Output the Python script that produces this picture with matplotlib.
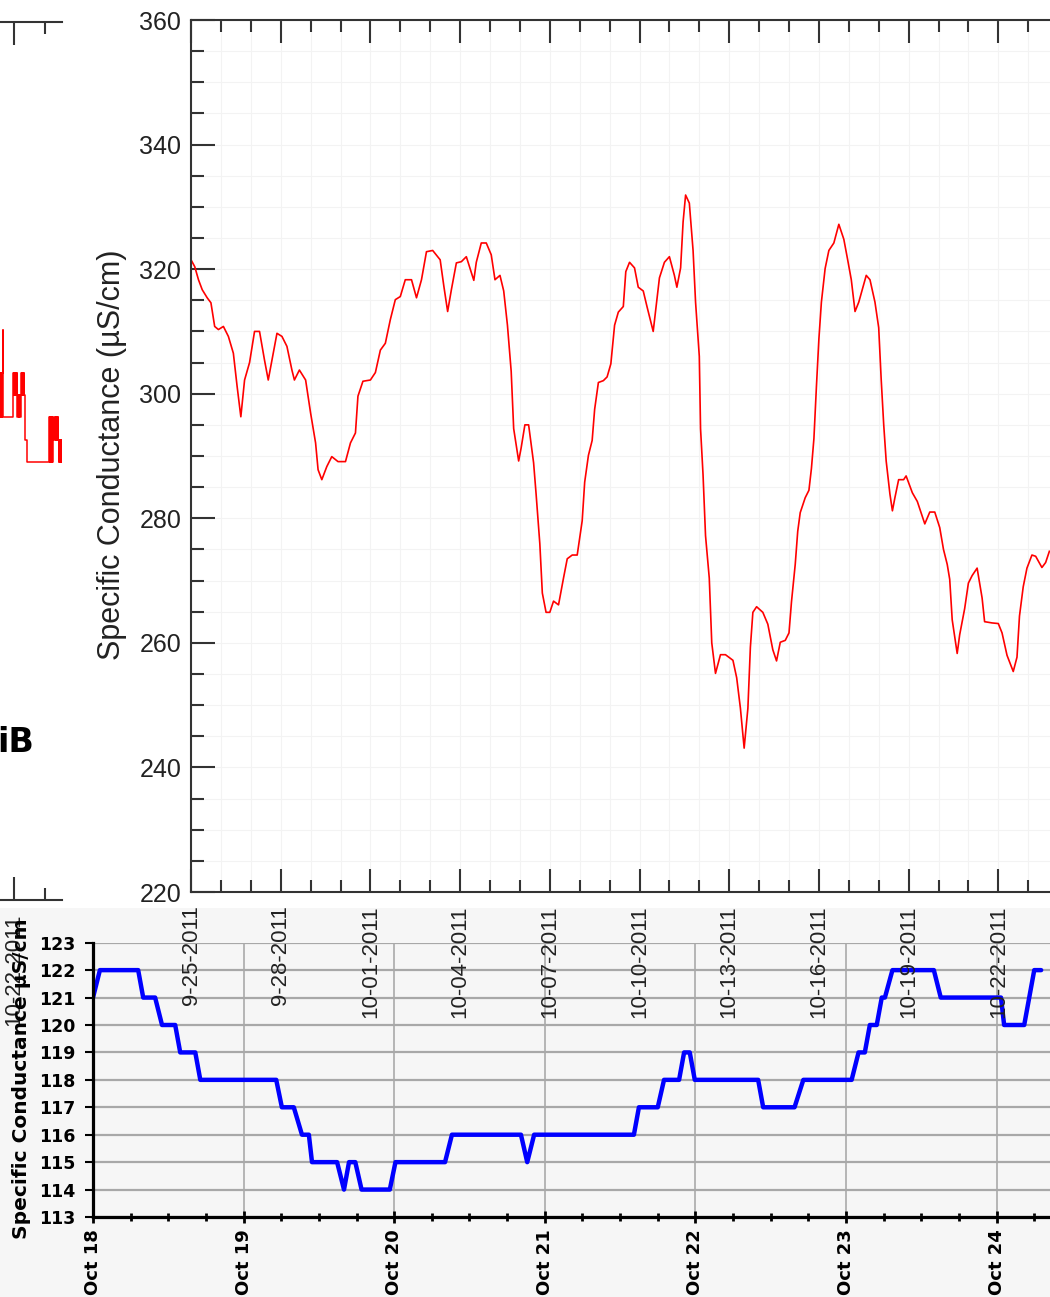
import matplotlib
matplotlib.use("Agg")
import matplotlib.pyplot as plt
import matplotlib.dates as mdates
from matplotlib.ticker import MultipleLocator, FuncFormatter, NullLocator
from matplotlib.patches import Rectangle
import pandas as pd

W, H = 1050, 1297

# Specific conductance (uS/cm), hours after 2011-09-25 00:00
red_hours = [
    0, 3, 6, 9, 13, 16, 19, 22, 26, 30,
    34, 37, 40, 43, 47, 51, 55, 59, 62, 65,
    69, 73, 77, 81, 83, 87, 92, 96, 100, 102,
    105, 109, 113, 118, 124, 128, 132, 134, 138, 144,
    148, 152, 156, 160, 164, 168, 172, 177, 181, 185,
    189, 194, 200, 203, 206, 209, 213, 217, 221, 227,
    229, 233, 237, 241, 244, 248, 251, 254, 257, 259,
    263, 265, 268, 271, 275, 277, 280, 282, 285, 288,
    291, 295, 299, 302, 306, 310, 314, 316, 319, 322,
    324, 327, 331, 334, 337, 340, 343, 347, 349, 352,
    356, 359, 363, 366, 371, 373, 376, 380, 384, 388,
    390, 393, 395, 397, 400, 403, 405, 408, 409, 411,
    413, 416, 418, 421, 425, 429, 435, 438, 441, 444,
    447, 449, 451, 454, 459, 463, 467, 470, 473, 477,
    480, 482, 485, 487, 489, 493, 496, 498, 500, 502,
    504, 506, 509, 512, 516, 520, 524, 527, 530, 533,
    536, 542, 545, 549, 552, 554, 556, 558, 561, 563,
    565, 568, 572, 574, 579, 583, 587, 589, 593, 597,
    601, 604, 607, 609, 611, 615, 617, 621, 624, 627,
    631, 635, 637, 643, 648, 651, 655, 660, 663, 665,
    668, 671, 675, 678, 683, 686, 689,
]
red_values = [
    321.5, 320.4, 318.3, 316.7, 315.4, 314.6, 310.8, 310.3, 310.8, 309.2,
    306.5, 301.2, 296.3, 302.2, 305.0, 310.0, 310.0, 305.4, 302.2, 305.4,
    309.7, 309.2, 307.6, 303.8, 302.2, 303.8, 302.2, 296.9, 292.1, 287.8,
    286.2, 288.3, 289.9, 289.1, 289.1, 292.1, 293.7, 299.6, 302.0, 302.2,
    303.4, 307.0, 308.1, 311.9, 315.1, 315.6, 318.3, 318.3, 315.4, 318.3,
    322.8, 323.0, 321.5, 317.2, 313.2, 316.7, 321.0, 321.2, 322.0, 318.2,
    321.1, 324.2, 324.2, 322.3, 318.3, 319.0, 316.5, 311.0, 303.6, 294.4,
    289.2, 291.3, 295.0, 295.0, 288.9, 283.9, 275.9, 268.0, 264.9, 264.9,
    266.7, 266.1, 270.4, 273.5, 274.1, 274.1, 279.6, 285.8, 290.1, 292.5,
    297.5, 301.8, 302.1, 302.7, 304.8, 311.0, 313.1, 314.0, 319.6, 321.1,
    320.2, 317.1, 316.5, 314.0, 310.0, 313.4, 318.6, 321.1, 322.0, 319.0,
    317.1, 320.2, 327.6, 331.9, 330.6, 323.0, 314.7, 306.0, 294.4, 287.0,
    277.2, 270.4, 260.0, 255.1, 258.1, 258.1, 257.2, 254.4, 249.5, 243.1,
    249.5, 259.3, 264.9, 265.8, 264.9, 263.0, 258.9, 257.1, 260.1, 260.4,
    261.6, 266.6, 272.6, 277.9, 280.9, 283.3, 284.5, 288.0, 292.8, 301.1,
    308.8, 314.7, 320.1, 323.0, 324.2, 327.2, 324.8, 321.6, 318.3, 313.2,
    314.7, 319.0, 318.3, 314.7, 310.6, 302.3, 295.1, 289.2, 283.9, 281.2,
    283.3, 286.2, 286.2, 286.8, 284.1, 282.7, 280.3, 279.1, 281.0, 281.0,
    278.5, 275.0, 272.6, 270.2, 263.7, 258.3, 261.3, 265.5, 269.6, 270.8,
    272.0, 267.2, 263.4, 263.2, 263.1, 261.6, 258.0, 255.4, 257.7, 264.3,
    269.0, 272.0, 274.1, 273.9, 272.1, 272.9, 274.7,
]

# Specific conductance (uS/cm), hours after 2011-10-18 00:00
blue_hours = [
    0, 1.1, 7.2, 8.0, 9.9, 11.0, 13.1, 13.9, 16.3, 17.1,
    29.2, 30.1, 32.0, 33.3, 34.4, 34.9, 38.9, 40.0, 40.8, 41.8,
    42.8, 47.3, 48.2, 56.1, 57.2, 68.2, 69.2, 70.3, 86.2, 87.0,
    90.0, 91.0, 93.4, 94.2, 95.1, 95.9, 106.0, 106.8, 111.8, 113.2,
    120.9, 122.0, 123.0, 123.8, 124.9, 125.7, 126.2, 127.4, 134.0, 135.1,
    144.7, 145.2, 148.4, 149.2, 150.0, 151.1,
]
blue_values = [
    121, 122, 122, 121, 121, 120, 120, 119, 119, 118,
    118, 117, 117, 116, 116, 115, 115, 114, 115, 115,
    114, 114, 115, 115, 116, 116, 115, 116, 116, 117,
    117, 118, 118, 119, 119, 118, 118, 117, 117, 118,
    118, 119, 119, 120, 120, 121, 121, 122, 122, 121,
    121, 120, 120, 121, 122, 122,
]

# tail of the earlier record, hours after 2011-10-22 00:00
tail_hours = [
    -11.5, -11.0, -10.5, -10.0, -9.5, -9.0, -8.8, -8.5, -1.0, -0.8,
    -0.3, 0.2, 0.7, 1.2, 1.7, 2.2, 2.7, 3.2, 3.7, 4.2,
    4.7, 5.4, 5.9, 6.4, 6.9, 7.4, 7.9, 8.5, 10.3, 27.1,
    27.6, 28.1, 28.6, 29.1, 29.6, 30.1, 30.6, 31.7, 32.2, 32.7,
    33.2, 33.7, 34.2, 34.6, 35.1, 35.6, 36.1, 36.6, 37.1,
]
tail_values = [
    297.0, 304.0, 297.0, 304.0, 297.0, 304.0, 310.9, 297.0, 300.5, 304.0,
    300.5, 304.0, 300.5, 304.0, 300.5, 304.0, 297.0, 300.5, 297.0, 300.5,
    297.0, 304.0, 300.5, 304.0, 300.5, 304.0, 300.5, 293.3, 289.9, 297.0,
    289.9, 297.0, 289.9, 297.0, 289.9, 297.0, 293.3, 297.0, 293.3, 297.0,
    293.3, 297.0, 293.3, 289.9, 293.3, 289.9, 293.3, 289.9, 293.3,
]

red_start = pd.Timestamp("2011-09-25")
blue_start = pd.Timestamp("2011-10-18")
tail_start = pd.Timestamp("2011-10-22")

red_t = red_start + pd.to_timedelta(red_hours, unit="h")
blue_t = blue_start + pd.to_timedelta(blue_hours, unit="h")
tail_t = tail_start + pd.to_timedelta(tail_hours, unit="h")


def fx(px):
    return px / W


def fy(py):
    return 1 - py / H


def mdy(v, pos=None):
    d = mdates.num2date(v)
    return f"{d.month}-{d.day:02d}-{d.year}"


HELV = "Liberation Sans"
third_days = [1, 4, 7, 10, 13, 16, 19, 22, 25, 28]

fig = plt.figure(figsize=(W / 100, H / 100), dpi=100)
fig.patch.set_facecolor("white")
# light grey band behind the lower chart
fig.patches.append(Rectangle((0, 0), 1, fy(908), transform=fig.transFigure,
                             facecolor="#f6f6f6", edgecolor="none", zorder=-1))

# ---- lower chart: Oct 18-24 ----
ax_b = fig.add_axes([fx(93), fy(1217), 1 - fx(93), fy(942.7) - fy(1217)],
                    zorder=1)
ax_b.set_facecolor("none")
ax_b.plot(blue_t, blue_values, color="#0000ff", lw=3.2,
          solid_joinstyle="round", solid_capstyle="round", zorder=3)
ax_b.set_ylim(113, 123)
ax_b.set_xlim(blue_start, blue_start + pd.Timedelta(days=(W - 93) / 150.6))
ax_b.yaxis.set_major_locator(MultipleLocator(1))
ax_b.xaxis.set_major_locator(mdates.DayLocator())
ax_b.xaxis.set_minor_locator(mdates.HourLocator(byhour=[6, 12, 18]))
ax_b.xaxis.set_major_formatter(mdates.DateFormatter("%b %d"))
ax_b.grid(True, axis="y", color="#a8a8a8", lw=1.6, zorder=1)
ax_b.grid(True, axis="x", which="major", color="#b0b0b0", lw=1.3, zorder=1)
for s in ("top", "right"):
    ax_b.spines[s].set_visible(False)
for s in ("left", "bottom"):
    ax_b.spines[s].set_linewidth(2.3)
    ax_b.spines[s].set_color("black")
    ax_b.spines[s].set_zorder(4)
ax_b.tick_params(axis="x", which="major", direction="inout", length=9,
                 width=2, pad=4, labelrotation=90, labelsize=13)
ax_b.tick_params(axis="x", which="minor", direction="inout", length=6, width=2)
ax_b.tick_params(axis="y", direction="out", length=6, width=1.5, pad=7,
                 labelsize=12.5)
for lab in ax_b.get_xticklabels() + ax_b.get_yticklabels():
    lab.set_fontweight("bold")
    lab.set_family("DejaVu Sans")
fig.text(fx(22), fy(1079), "Specific Conductance µS/cm", rotation=90,
         ha="center", va="center", fontsize=14.5, fontweight="bold",
         family="DejaVu Sans", color="black")

# ---- tail of the earlier record, at the left edge ----
ax_f = fig.add_axes([0, fy(900), fx(62), fy(22) - fy(900)], zorder=2)
ax_f.set_facecolor("none")
ax_f.plot(tail_t, tail_values, color="#ff0000", lw=1.1, drawstyle="steps-post")
ax_f.set_ylim(220, 360)
ax_f.set_xlim(tail_start - pd.Timedelta(days=14 / 31),
              tail_start + pd.Timedelta(days=48 / 31))
ax_f.yaxis.set_major_locator(NullLocator())
ax_f.xaxis.set_major_locator(mdates.DayLocator(bymonthday=third_days))
ax_f.xaxis.set_minor_locator(mdates.DayLocator())
ax_f.xaxis.set_major_formatter(FuncFormatter(mdy))
for s in ("left", "right"):
    ax_f.spines[s].set_visible(False)
for s in ("top", "bottom"):
    ax_f.spines[s].set_color("#333333")
    ax_f.spines[s].set_linewidth(1.5)
ax_f.tick_params(axis="x", which="both", direction="in", top=True,
                 bottom=True, width=1.5, color="#333333")
ax_f.tick_params(axis="x", which="major", length=16.5, pad=9.5,
                 labelrotation=90, labelsize=16, labelcolor="#222222")
ax_f.tick_params(axis="x", which="minor", length=8.5)
for lab in ax_f.get_xticklabels():
    lab.set_family(HELV)
fig.text(fx(34), fy(742), "iB", ha="right", va="center", fontsize=24,
         fontweight="bold", family="DejaVu Sans", color="black")

# ---- upper chart: Sept 25 onward ----
ax_r = fig.add_axes([fx(191), fy(892), 1 - fx(191), fy(20) - fy(892)], zorder=3)
ax_r.set_facecolor("white")
ax_r.plot(red_t, red_values, color="#ff0000", lw=1.2)
ax_r.set_ylim(220, 360)
ax_r.set_xlim(red_start, red_start + pd.Timedelta(days=(W - 191) / 29.9))
ax_r.yaxis.set_major_locator(MultipleLocator(20))
ax_r.yaxis.set_minor_locator(MultipleLocator(5))
ax_r.xaxis.set_major_locator(mdates.DayLocator(bymonthday=third_days))
ax_r.xaxis.set_minor_locator(mdates.DayLocator())
ax_r.xaxis.set_major_formatter(FuncFormatter(mdy))
ax_r.grid(True, which="both", color="#f3f3f3", lw=0.8)
ax_r.spines["right"].set_visible(False)
for s in ("top", "bottom", "left"):
    ax_r.spines[s].set_color("#333333")
    ax_r.spines[s].set_linewidth(1.5)
ax_r.tick_params(axis="x", which="both", direction="in", top=True,
                 bottom=True, width=1.5, color="#333333")
ax_r.tick_params(axis="x", which="major", length=16.5, pad=9.5,
                 labelrotation=90, labelsize=16, labelcolor="#222222")
ax_r.tick_params(axis="x", which="minor", length=8.5)
ax_r.tick_params(axis="y", which="both", direction="in", left=True,
                 right=False, width=1.5, color="#333333")
ax_r.tick_params(axis="y", which="major", length=17, pad=7, labelsize=18,
                 labelcolor="#222222")
ax_r.tick_params(axis="y", which="minor", length=9)
for lab in ax_r.get_xticklabels() + ax_r.get_yticklabels():
    lab.set_family(HELV)
fig.text(fx(112), fy(455), "Specific Conductance (µS/cm)", rotation=90,
         ha="center", va="center", fontsize=22, family=HELV, color="#222222")

fig.savefig("out.png", dpi=100, facecolor=fig.get_facecolor())
